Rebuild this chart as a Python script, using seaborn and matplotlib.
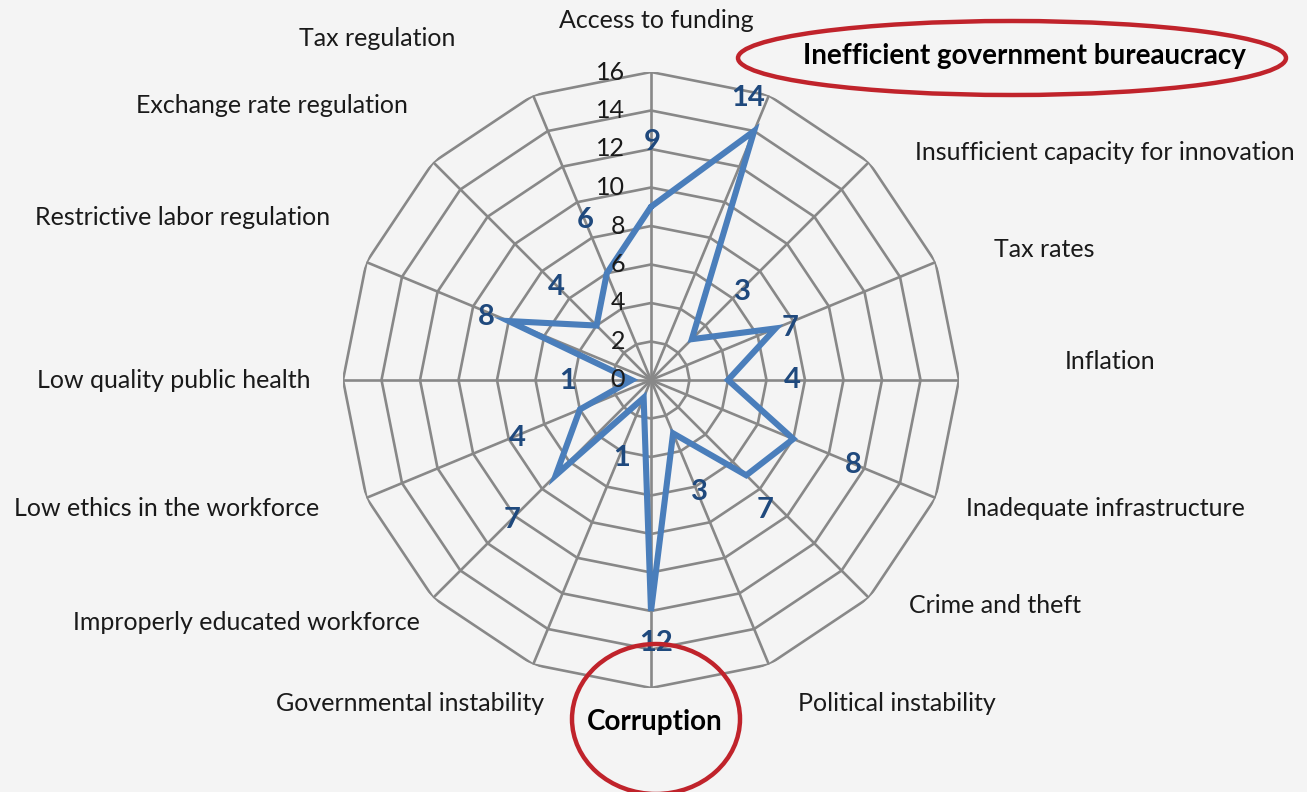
import numpy as np
import pandas as pd
import matplotlib
matplotlib.use("Agg")
import matplotlib.pyplot as plt
from matplotlib.patches import Ellipse
import seaborn as sns

# ---- data -------------------------------------------------------------
categories = [
    "Access to funding",
    "Inefficient government bureaucracy",
    "Insufficient capacity for innovation",
    "Tax rates",
    "Inflation",
    "Inadequate infrastructure",
    "Crime and theft",
    "Political instability",
    "Corruption",
    "Governmental instability",
    "Improperly educated workforce",
    "Low ethics in the workforce",
    "Low quality public health",
    "Restrictive labor regulation",
    "Exchange rate regulation",
    "Tax regulation",
]
values = [9, 14, 3, 7, 4, 8, 7, 3, 12, 1, 7, 4, 1, 8, 4, 6]
ring_levels = [2, 4, 6, 8, 10, 12, 14, 16]
tick_values = [0, 2, 4, 6, 8, 10, 12, 14, 16]
tick_labels = ["0", "2", "4", "6", "8", "10", "12", "14", "16"]
highlighted = ["Inefficient government bureaucracy", "Corruption"]

# ---- layout (pixel offsets of the hand-placed labels) ----------------
value_label_offsets = [
    (1, 65), (-6, 33), (51, 47), (15, 0), (64, 0), (60, -26), (19, -35),
    (26, -59), (5, -32), (-22, -60), (-44, -45), (-63, -29), (-64, -1),
    (-22, 4), (-40, 39), (-22, 53),
]
category_label_offsets = [
    (5, 52), (256, 39), (236, 10), (109, 13), (151, 18), (170, -11),
    (126, -8), (128, -39), (4, -34), (-123, -39), (-187, -25), (-200, -11),
    (-169, 0), (-184, 45), (-161, 57), (-156, 57),
]
# highlight ellipses: centre x, centre y (from top), width, height in pixels
highlight_ellipses = [(1012, 58, 548, 74), (656, 719, 168, 150)]

# ---- style ------------------------------------------------------------
W, H = 1307, 792
BG = "#F4F4F4"
GRID = "#888888"
LINE = "#4A7EBB"
VALUE_TXT = "#1F497D"
TXT = "#1A1A1A"
RED = "#C0232B"

sns.set_theme(style="white")
plt.rcParams["font.family"] = ["Lato", "DejaVu Sans"]

fig = plt.figure(figsize=(W / 100, H / 100), dpi=100, facecolor=BG)

cx, cy, R = 651, 380, 308
ax = fig.add_axes([(cx - R) / W, (H - cy - R) / H, 2 * R / W, 2 * R / H],
                  projection="polar")
ax.set_theta_zero_location("N")
ax.set_theta_direction(-1)
ax.patch.set_alpha(0)
ax.grid(False)
ax.spines["polar"].set_visible(False)

n = len(categories)
theta = np.arange(n) * 2 * np.pi / n
theta_closed = np.append(theta, 2 * np.pi)

# polygonal web: rings and spokes
for lvl in ring_levels:
    ax.plot(theta_closed, [lvl] * (n + 1), color=GRID, lw=1.9, zorder=1)
for t in theta:
    ax.plot([t, t], [0, ring_levels[-1]], color=GRID, lw=1.9, zorder=1)

# series line
df = pd.DataFrame({"theta": theta_closed, "value": values + values[:1]})
sns.lineplot(data=df, x="theta", y="value", sort=False, estimator=None,
             color=LINE, linewidth=4.4, ax=ax, zorder=3)
ax.lines[-1].set_solid_joinstyle("miter")

ax.set_ylim(0, 16)
ax.set_xticks([])
ax.set_yticks([])
ax.set_xlabel("")
ax.set_ylabel("")

# radial tick labels along the top spoke
for v, lab in zip(tick_values, tick_labels):
    ax.annotate(lab, xy=(0, v), xytext=(-26, 0), textcoords="offset pixels",
                ha="right", va="center", fontsize=18, color=TXT, zorder=4)

# value labels
for t, v, (dx, dy) in zip(theta, values, value_label_offsets):
    ax.annotate(str(v), xy=(t, v), xytext=(dx, dy), textcoords="offset pixels",
                ha="center", va="center", fontsize=21, fontweight="bold",
                color=VALUE_TXT, zorder=5)

# category labels around the web
for t, cat, (dx, dy) in zip(theta, categories, category_label_offsets):
    bold = cat in highlighted
    ax.annotate(cat, xy=(t, ring_levels[-1]), xytext=(dx, dy),
                textcoords="offset pixels", ha="center", va="center",
                fontsize=20 if bold else 18,
                fontweight="bold" if bold else "normal",
                color="black" if bold else TXT, zorder=5,
                annotation_clip=False)

# red highlight ellipses
for ex, ey, ew, eh in highlight_ellipses:
    fig.add_artist(Ellipse((ex / W, 1 - ey / H), ew / W, eh / H,
                           transform=fig.transFigure, fill=False,
                           edgecolor=RED, lw=3.2))

fig.savefig("out.png", dpi=100, facecolor=BG)
